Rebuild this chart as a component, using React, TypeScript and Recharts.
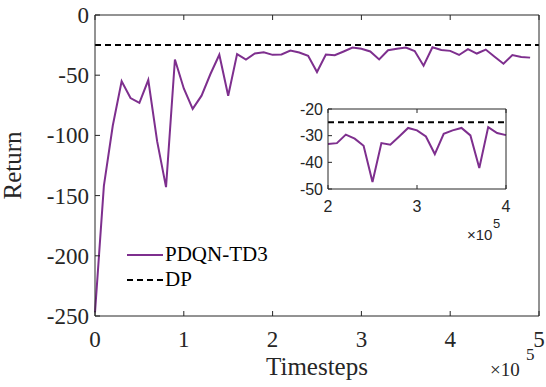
import React from 'react';
import { LineChart, Line, XAxis, YAxis, ReferenceLine } from 'recharts';

// timesteps in units of 1e5
const steps = [
  0, 0.1, 0.2, 0.3, 0.4, 0.5, 0.6, 0.7, 0.8, 0.9,
  1.0, 1.1, 1.2, 1.3, 1.4, 1.5, 1.6, 1.7, 1.8, 1.9,
  2.0, 2.1, 2.2, 2.3, 2.4, 2.5, 2.6, 2.7, 2.8, 2.9,
  3.0, 3.1, 3.2, 3.3, 3.4, 3.5, 3.6, 3.7, 3.8, 3.9,
  4.0, 4.1, 4.2, 4.3, 4.4, 4.5, 4.6, 4.7, 4.8, 4.9,
];
const pdqnReturns = [
  -247, -142, -92, -55, -69, -73, -54, -105, -143, -37,
  -61, -78, -67, -49, -33, -67, -32.5, -37, -32, -31,
  -33.1, -32.8, -29.6, -31.1, -33.8, -47.4, -32.8, -33.4, -30.3, -27.1,
  -28, -30.3, -36.9, -29.3, -28, -27.1, -29.9, -42.1, -26.8, -29,
  -29.8, -33.2, -28.3, -32, -28.7, -34.7, -40.5, -33.2, -34.8, -35.4,
];
const dpReturn = -25;

const xTicks = [0, 1, 2, 3, 4, 5];
const yTicks = [-250, -200, -150, -100, -50, 0];
const insetXTicks = [2, 3, 4];
const insetYTicks = [-50, -40, -30, -20];

const data = steps.map((s, i) => ({ step: s, pdqn: pdqnReturns[i] }));
const insetData = data.filter((d) => d.step >= 2 && d.step <= 4);

const PURPLE = '#7E2F8E';
const AXIS = '#262626';
const SERIF = '"Liberation Serif", "Times New Roman", serif';
const SANS = '"Liberation Sans", Arial, sans-serif';

// MATLAB style: tick marks point inward
const makeTick = (side: string, len: number, font: string, size: number, gap: number) => (props: any) => {
  const { x, y, payload } = props;
  const st = { fontFamily: font, fontSize: size, fill: AXIS };
  if (side === 'bottom') {
    return (
      <g>
        <line x1={x} x2={x} y1={y} y2={y - len} stroke={AXIS} />
        <text x={x} y={y + gap} textAnchor="middle" style={st}>{payload.value}</text>
      </g>
    );
  }
  if (side === 'left') {
    return (
      <g>
        <line x1={x} x2={x + len} y1={y} y2={y} stroke={AXIS} />
        <text x={x - gap} y={y} dy="0.35em" textAnchor="end" style={st}>{payload.value}</text>
      </g>
    );
  }
  if (side === 'top') return <line x1={x} x2={x} y1={y} y2={y + len} stroke={AXIS} />;
  return <line x1={x} x2={x - len} y1={y} y2={y} stroke={AXIS} />;
};

function LegendBox() {
  return (
    <div style={{ fontFamily: SERIF, fontSize: 21, color: '#000', lineHeight: '25px' }}>
      <div style={{ display: 'flex', alignItems: 'center' }}>
        <svg width={38} height={10}>
          <line x1={0} y1={5} x2={36} y2={5} stroke={PURPLE} strokeWidth={2} />
        </svg>
        <span>PDQN-TD3</span>
      </div>
      <div style={{ display: 'flex', alignItems: 'center' }}>
        <svg width={38} height={10}>
          <line x1={0} y1={5} x2={36} y2={5} stroke="#000" strokeWidth={2} strokeDasharray="6 4" />
        </svg>
        <span>DP</span>
      </div>
    </div>
  );
}

export default function App() {
  document.body.style.margin = '0';
  return (
    <div style={{ position: 'relative', width: 546, height: 387, background: '#fff' }}>
      <LineChart width={546} height={387} data={data} margin={{ top: 14, right: 6, left: 0, bottom: 0 }}>
        <XAxis
          dataKey="step"
          type="number"
          domain={[0, 5]}
          ticks={xTicks}
          height={71}
          tickLine={false}
          tickSize={0}
          tickMargin={0}
          stroke={AXIS}
          tick={makeTick('bottom', 5, SERIF, 23, 31)}
          label={{ value: 'Timesteps', position: 'insideBottom', offset: 12, fill: AXIS, style: { fontFamily: SERIF, fontSize: 25 } }}
        />
        <XAxis xAxisId="top" dataKey="step" type="number" domain={[0, 5]} ticks={xTicks} orientation="top" height={1}
          tickLine={false} tickSize={0} tickMargin={0} tick={makeTick('top', 5, SERIF, 23, 0)} stroke={AXIS} />
        <YAxis
          domain={[-250, 0]}
          ticks={yTicks}
          width={95}
          tickLine={false}
          tickSize={0}
          tickMargin={0}
          stroke={AXIS}
          tick={makeTick('left', 5, SERIF, 23, 6)}
          label={{ value: 'Return', angle: -90, position: 'insideLeft', offset: 12, fill: AXIS, style: { textAnchor: 'middle', fontFamily: SERIF, fontSize: 25 } }}
        />
        <YAxis yAxisId="right" orientation="right" domain={[-250, 0]} ticks={yTicks} width={1}
          tickLine={false} tickSize={0} tickMargin={0} tick={makeTick('right', 5, SERIF, 23, 0)} stroke={AXIS} />
        <ReferenceLine y={dpReturn} stroke="#000" strokeWidth={2} strokeDasharray="6 4" />
        <Line dataKey="pdqn" stroke={PURPLE} strokeWidth={2} dot={false} isAnimationActive={false} />
      </LineChart>

      {/* legend */}
      <div style={{ position: 'absolute', left: 127, top: 242 }}>
        <LegendBox />
      </div>

      {/* inset zoom */}
      <div style={{ position: 'absolute', left: 280, top: 100 }}>
        <LineChart width={240} height={145} data={insetData} margin={{ top: 8, right: 13, left: 0, bottom: 0 }}>
          <XAxis
            dataKey="step"
            type="number"
            domain={[2, 4]}
            ticks={insetXTicks}
            height={56}
            tickLine={false}
            tickSize={0}
            tickMargin={0}
            stroke={AXIS}
            tick={makeTick('bottom', 4, SANS, 16, 23)}
          />
          <XAxis xAxisId="top" dataKey="step" type="number" domain={[2, 4]} ticks={insetXTicks} orientation="top" height={1}
            tickLine={false} tickSize={0} tickMargin={0} tick={makeTick('top', 4, SANS, 16, 0)} stroke={AXIS} />
          <YAxis
            domain={[-50, -20]}
            ticks={insetYTicks}
            width={48}
            tickLine={false}
            tickSize={0}
            tickMargin={0}
            stroke={AXIS}
            tick={makeTick('left', 4, SANS, 16, 5)}
          />
          <YAxis yAxisId="right" orientation="right" domain={[-50, -20]} ticks={insetYTicks} width={1}
            tickLine={false} tickSize={0} tickMargin={0} tick={makeTick('right', 4, SANS, 16, 0)} stroke={AXIS} />
          <ReferenceLine y={dpReturn} stroke="#000" strokeWidth={2} strokeDasharray="6 4" />
          <Line dataKey="pdqn" stroke={PURPLE} strokeWidth={2} dot={false} isAnimationActive={false} />
        </LineChart>
      </div>

      {/* exponent labels */}
      <svg width={546} height={387} style={{ position: 'absolute', left: 0, top: 0, pointerEvents: 'none' }}>
        <text x={490} y={376} style={{ fill: AXIS, fontFamily: SERIF, fontSize: 19 }}>×10</text>
        <text x={526} y={360} style={{ fill: AXIS, fontFamily: SERIF, fontSize: 17 }}>5</text>
        <text x={467} y={240} style={{ fill: AXIS, fontFamily: SANS, fontSize: 15 }}>×10</text>
        <text x={493} y={228} style={{ fill: AXIS, fontFamily: SANS, fontSize: 13 }}>5</text>
      </svg>
    </div>
  );
}
